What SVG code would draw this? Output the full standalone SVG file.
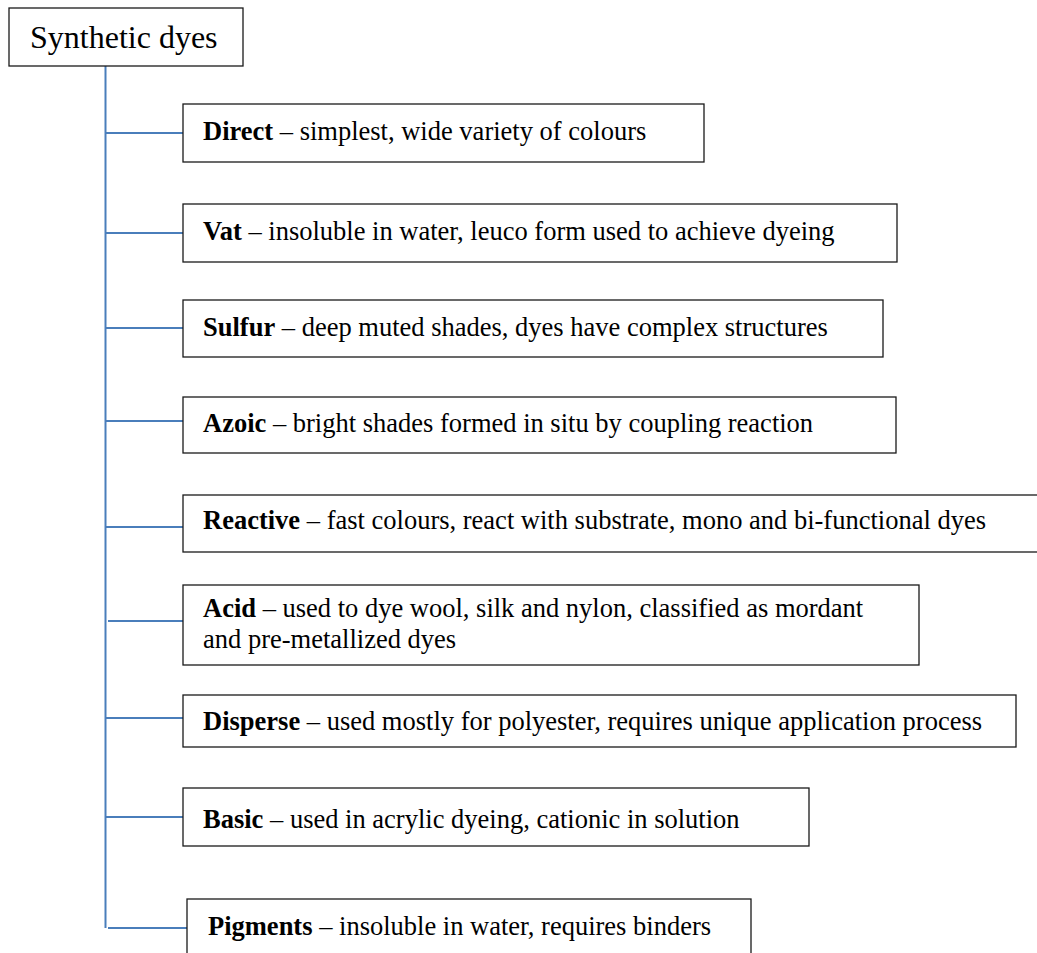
<svg xmlns="http://www.w3.org/2000/svg" width="1037" height="953" viewBox="0 0 1037 953">
  <style>
    .box { fill: #ffffff; stroke: #1a1a1a; stroke-width: 1.3; }
    .link { fill: none; stroke: #4a7ebb; stroke-width: 2; }
    .title { font-family: "Liberation Serif", "Times New Roman", serif; font-size: 32px; fill: #000; }
    .label { font-family: "Liberation Serif", "Times New Roman", serif; font-size: 26.5px; fill: #000; }
    .label .b { font-weight: bold; }
  </style>
  <rect width="1037" height="953" fill="#ffffff"/>

  <!-- tree connectors -->
  <g id="connectors">
    <line class="link" x1="105.5" y1="66" x2="105.5" y2="928"/>
    <line class="link" x1="105.5" y1="133" x2="183" y2="133"/>
    <line class="link" x1="105.5" y1="233" x2="183" y2="233"/>
    <line class="link" x1="105.5" y1="328" x2="183" y2="328"/>
    <line class="link" x1="105.5" y1="421" x2="183" y2="421"/>
    <line class="link" x1="105.5" y1="527" x2="183" y2="527"/>
    <line class="link" x1="108" y1="621" x2="187" y2="621"/>
    <line class="link" x1="105.5" y1="718" x2="183" y2="718"/>
    <line class="link" x1="105.5" y1="817" x2="183" y2="817"/>
    <line class="link" x1="108" y1="928" x2="187" y2="928"/>
  </g>

  <g id="root">
    <rect class="box" x="9" y="8" width="234" height="58"/>
    <text class="title" x="30" y="48">Synthetic dyes</text>
  </g>

  <g id="direct">
    <rect class="box" x="183" y="104" width="521" height="58"/>
    <text class="label" x="203" y="140"><tspan class="b">Direct</tspan> – simplest, wide variety of colours</text>
  </g>

  <g id="vat">
    <rect class="box" x="183" y="204" width="714" height="58"/>
    <text class="label" x="203" y="240"><tspan class="b">Vat</tspan> – insoluble in water, leuco form used to achieve dyeing</text>
  </g>

  <g id="sulfur">
    <rect class="box" x="183" y="300" width="700" height="57"/>
    <text class="label" x="203" y="336"><tspan class="b">Sulfur</tspan> – deep muted shades, dyes have complex structures</text>
  </g>

  <g id="azoic">
    <rect class="box" x="183" y="397" width="713" height="56"/>
    <text class="label" x="203" y="432"><tspan class="b">Azoic</tspan> – bright shades formed in situ by coupling reaction</text>
  </g>

  <g id="reactive">
    <rect class="box" x="183" y="495" width="860" height="57"/>
    <text class="label" x="203" y="529"><tspan class="b">Reactive</tspan> – fast colours, react with substrate, mono and bi-functional dyes</text>
  </g>

  <g id="acid">
    <rect class="box" x="183" y="585" width="736" height="80"/>
    <text class="label" x="203" y="617"><tspan class="b">Acid</tspan> – used to dye wool, silk and nylon, classified as mordant</text>
    <text class="label" x="203" y="648">and pre-metallized dyes</text>
  </g>

  <g id="disperse">
    <rect class="box" x="183" y="695" width="833" height="52"/>
    <text class="label" x="203" y="730"><tspan class="b">Disperse</tspan> – used mostly for polyester, requires unique application process</text>
  </g>

  <g id="basic">
    <rect class="box" x="183" y="788" width="626" height="58"/>
    <text class="label" x="203" y="828"><tspan class="b">Basic</tspan> – used in acrylic dyeing, cationic in solution</text>
  </g>

  <g id="pigments">
    <rect class="box" x="187" y="899" width="564" height="70"/>
    <text class="label" x="208" y="935"><tspan class="b">Pigments</tspan> – insoluble in water, requires binders</text>
  </g>
</svg>
